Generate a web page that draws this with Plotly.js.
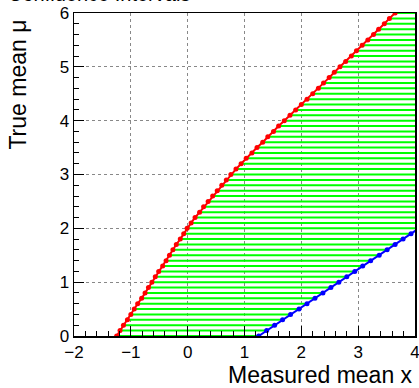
<!DOCTYPE html>
<html>
<head>
<meta charset="utf-8">
<script src="https://cdn.plot.ly/plotly-3.0.1.min.js"></script>
<style>html,body{margin:0;padding:0;background:#fff;}#plot{width:419px;height:388px;}</style>
</head>
<body>
<div id="plot"></div>
<script>
// True mean mu values (steps of the belt)
var muValues = [0.0,0.1,0.2,0.3,0.4,0.5,0.6,0.7,0.8,0.9,1.0,1.1,1.2,1.3,1.4,1.5,1.6,1.7,1.8,1.9,2.0,
  2.1,2.2,2.3,2.4,2.5,2.6,2.7,2.8,2.9,3.0,3.1,3.2,3.3,3.4,3.5,3.6,3.7,3.8,3.9,4.0,
  4.1,4.2,4.3,4.4,4.5,4.6,4.7,4.8,4.9,5.0,5.1,5.2,5.3,5.4,5.5,5.6,5.7,5.8,5.9,6.0];
// Lower edge of acceptance interval (red)
var xLower = [-1.25,-1.19,-1.13,-1.06,-1.00,-0.94,-0.88,-0.81,-0.75,-0.69,-0.63,-0.57,-0.51,-0.44,-0.38,-0.32,-0.26,-0.20,-0.13,-0.07,-0.01,
  0.06,0.13,0.21,0.28,0.36,0.44,0.52,0.60,0.68,0.76,0.85,0.94,1.03,1.13,1.22,1.32,1.41,1.51,1.60,1.70,
  1.80,1.90,2.00,2.10,2.20,2.30,2.39,2.49,2.58,2.68,2.78,2.88,2.97,3.07,3.17,3.27,3.36,3.46,3.55,3.65];
// Upper edge of acceptance interval (blue), visible part
var muUpper = [0.0,0.1,0.2,0.3,0.4,0.5,0.6,0.7,0.8,0.9,1.0,1.1,1.2,1.3,1.4,1.5,1.6,1.7,1.8,1.9,2.0];
var xUpper = [1.25,1.39,1.53,1.67,1.81,1.96,2.10,2.24,2.38,2.52,2.66,2.80,2.94,3.08,3.22,3.37,3.51,3.65,3.79,3.93,4.07];

var xRange = [-2, 4];
var yRange = [0, 6];

// belt segments (green)
var segX = [], segY = [];
for (var i = 0; i < muValues.length; i++) {
  var right = (i < xUpper.length) ? xUpper[i] : xRange[1] + 1;
  segX.push(xLower[i], right, null);
  segY.push(muValues[i], muValues[i], null);
}

var traces = [
  {x: segX, y: segY, mode: 'lines', line: {color: '#00ff00', width: 2}, hoverinfo: 'skip', showlegend: false},
  {x: xLower, y: muValues, mode: 'lines+markers', line: {color: '#ff0000', width: 2},
   marker: {color: '#ff0000', size: 5, symbol: 'circle'}, showlegend: false},
  {x: xUpper, y: muUpper, mode: 'lines+markers', line: {color: '#0000ff', width: 2},
   marker: {color: '#0000ff', size: 5, symbol: 'circle'}, showlegend: false}
];

var font = 'Liberation Sans, Arial, Helvetica, sans-serif';
var axisCommon = {
  showline: true, mirror: true, linecolor: '#000', linewidth: 1.5,
  ticks: 'inside', ticklen: 10, tickwidth: 1, tickcolor: '#000',
  showgrid: true, gridcolor: '#888', griddash: 'dot', gridwidth: 1,
  zeroline: false, dtick: 1, ticklabeloverflow: 'allow',
  tickfont: {family: font, size: 17, color: '#000'},
  minor: {ticks: 'inside', ticklen: 5, dtick: 0.2, tickcolor: '#000', showgrid: false}
};

var layout = {
  width: 419, height: 388,
  margin: {l: 74, r: 4, t: 13, b: 52},
  paper_bgcolor: '#fff', plot_bgcolor: '#fff',
  xaxis: Object.assign({}, axisCommon, {range: xRange, tick0: -2}),
  yaxis: Object.assign({}, axisCommon, {range: yRange, tick0: 0}),
  showlegend: false,
  annotations: [
    {text: 'Measured mean x', xref: 'paper', yref: 'paper', x: 1.0, y: -0.168, xanchor: 'right', yanchor: 'bottom',
     showarrow: false, font: {family: font, size: 23, color: '#000'}},
    {text: 'True mean \u03bc', xref: 'paper', yref: 'paper', x: -0.165, y: 0.985, xanchor: 'center', yanchor: 'top',
     textangle: -90, showarrow: false, font: {family: font, size: 23, color: '#000'}},
    {text: 'Confidence Intervals', xref: 'paper', yref: 'paper', x: -0.2, y: 1.02, xanchor: 'left', yanchor: 'bottom',
     showarrow: false, font: {family: font, size: 20, color: '#000'}}
  ]
};

Plotly.newPlot('plot', traces, layout, {displayModeBar: false, staticPlot: true});
</script>
</body>
</html>
